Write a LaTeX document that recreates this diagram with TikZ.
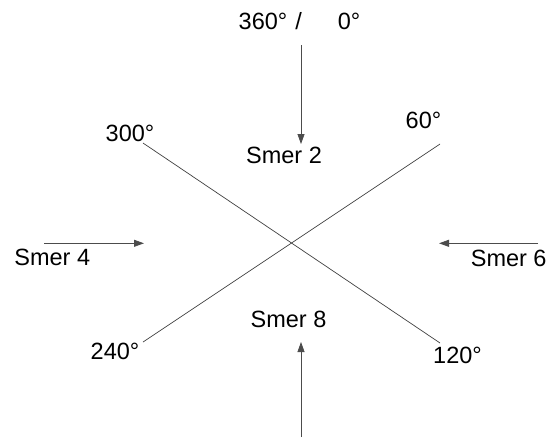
\documentclass[tikz,border=0pt]{standalone}
\usepackage{fontspec}
\setmainfont{Liberation Sans}
\usepackage{tikz}
\usetikzlibrary{arrows.meta}
\tikzset{
  lbl/.style={inner sep=0pt,anchor=base,font=\fontsize{23.5}{28}\selectfont},
  dirline/.style={line width=0.7pt,black!75},
  windarrow/.style={->,line width=0.8pt,black!70}
}

\begin{document}
\begin{tikzpicture}[x=1pt,y=-1pt,>={Triangle[length=10pt,width=7pt]}]
  \useasboundingbox (0,0) rectangle (551,437);
  % angle labels
  \node[lbl] (top) at (299.5,29) {360°\hspace{8pt}/\hspace{36pt}0°};
  \node[lbl] (a300) at (130,141.7) {300°};
  \node[lbl] (a60) at (423.5,128.5) {60°};
  \node[lbl] (a240) at (115,359) {240°};
  \node[lbl] (a120) at (457.5,363) {120°};
  % direction labels
  \node[lbl] (s2) at (284,163.3) {Smer 2};
  \node[lbl] (s4) at (52.3,265.7) {Smer 4};
  \node[lbl] (s6) at (508.7,266) {Smer 6};
  \node[lbl] (s8) at (288.5,327) {Smer 8};
  % ends of the two crossing lines
  \coordinate (p300) at (143,143);
  \coordinate (p120) at (440,343);
  \coordinate (p240) at (143,342);
  \coordinate (p60) at (440,144);
  \draw[dirline] (p300) -- (p120);
  \draw[dirline] (p240) -- (p60);
  % arrows
  \coordinate (n0) at (301,45);  \coordinate (n1) at (301,144);
  \coordinate (w0) at (44,243.3); \coordinate (w1) at (144,243.3);
  \coordinate (e0) at (538,243.3); \coordinate (e1) at (439,243.3);
  \coordinate (b0) at (301,437); \coordinate (b1) at (301,342);
  \draw[windarrow] (n0) -- (n1);
  \draw[windarrow] (w0) -- (w1);
  \draw[windarrow] (e0) -- (e1);
  \draw[windarrow] (b0) -- (b1);
\end{tikzpicture}
\end{document}
